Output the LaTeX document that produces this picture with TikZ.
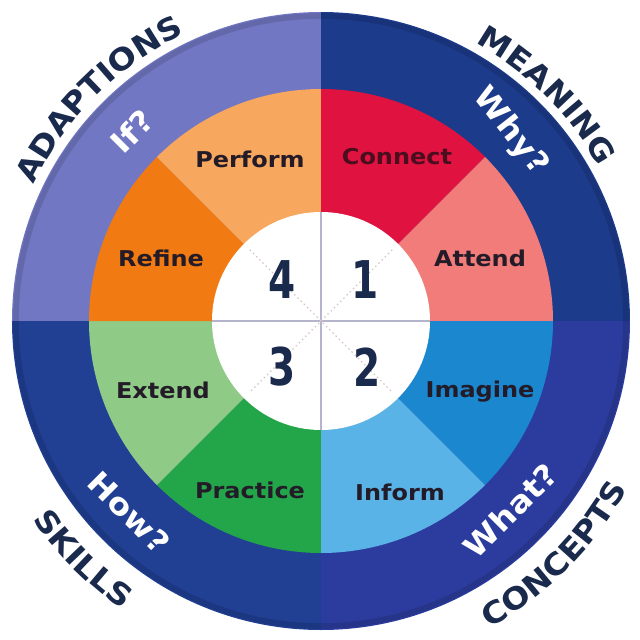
\documentclass[tikz,border=0pt]{standalone}
\usepackage{fontspec}
\setmainfont{DejaVu Sans}[FakeStretch=1.1]
\newfontfamily\numfont{DejaVu Sans}[FakeStretch=0.75]
\usetikzlibrary{decorations.text}
\definecolor{ringTL}{HTML}{7177C2}
\definecolor{ringTR}{HTML}{1D3B8B}
\definecolor{ringBL}{HTML}{213F93}
\definecolor{ringBR}{HTML}{2C3C9E}
\definecolor{cConnect}{HTML}{DF1240}
\definecolor{cAttend}{HTML}{F27C7A}
\definecolor{cImagine}{HTML}{1B87CF}
\definecolor{cInform}{HTML}{5AB3E6}
\definecolor{cPractice}{HTML}{23A64A}
\definecolor{cExtend}{HTML}{8FCB86}
\definecolor{cRefine}{HTML}{F27A12}
\definecolor{cPerform}{HTML}{F8A75E}
\definecolor{labelc}{HTML}{231C28}
\definecolor{connectc}{HTML}{4A0E1E}
\definecolor{navyc}{HTML}{1A2A4C}
\definecolor{crossc}{HTML}{B4B4CC}
\definecolor{dotc}{HTML}{D8C4C4}
\newcommand\outerfont{\fontsize{21.5}{21.5}\selectfont\bfseries\color{navyc}}
\begin{document}
\begin{tikzpicture}[x=0.025cm,y=0.025cm,
  sectorlabel/.style={font=\fontsize{15.5}{15.5}\selectfont\bfseries, text=labelc},
  ringlabel/.style={font=\fontsize{21.5}{21.5}\selectfont\bfseries, text=white},
  numlabel/.style={font=\numfont\fontsize{37}{37}\selectfont\bfseries, text=navyc},
  crossline/.style={draw=crossc, line width=1pt},
  dotline/.style={draw=dotc, line width=1.4pt, line cap=round, dash pattern=on 0pt off 3.2pt}]
\fill[white] (-321,-319) rectangle (319,321);
\useasboundingbox (-321,-319) rectangle (319,321);
% outer ring quadrants
\fill[ringTR] (0,0) -- (0:309) arc[start angle=0, end angle=90, radius=309] -- cycle;
\fill[ringTL] (0,0) -- (90:309) arc[start angle=90, end angle=180, radius=309] -- cycle;
\fill[ringBL] (0,0) -- (180:309) arc[start angle=180, end angle=270, radius=309] -- cycle;
\fill[ringBR] (0,0) -- (270:309) arc[start angle=270, end angle=360, radius=309] -- cycle;
% subtle darker rim
\draw[black, opacity=0.12, line width=4pt] (0,0) circle[radius=305];
% coloured sectors
\foreach \a/\b/\c in {45/90/cConnect, 0/45/cAttend, -45/0/cImagine, -90/-45/cInform,
  -135/-90/cPractice, 180/225/cExtend, 135/180/cRefine, 90/135/cPerform}
  \fill[\c] (0,0) -- (\a:232) arc[start angle=\a, end angle=\b, radius=232] -- cycle;
% white centre
\fill[white] (0,0) circle[radius=109];
\path[crossline] (-109,0) -- (109,0);
\path[crossline] (0,-109) -- (0,109);
\path[dotline] (135:100) -- (-45:100);
\path[dotline] (45:100) -- (225:100);
% numbers
\node[numlabel] (n4) at (-39,41) {4};
\node[numlabel] (n1) at (44,41) {1};
\node[numlabel] (n3) at (-39,-46) {3};
\node[numlabel] (n2) at (46,-46) {2};
% sector labels
\node[sectorlabel] (perform) at (-71,162) {Perform};
\node[sectorlabel, text=connectc] (connect) at (76,164) {Connect};
\node[sectorlabel] (refine) at (-160,63) {Refine};
\node[sectorlabel] (attend) at (159,63) {Attend};
\node[sectorlabel] (extend) at (-158,-69) {Extend};
\node[sectorlabel] (imagine) at (159,-71) {Imagine};
\node[sectorlabel] (practice) at (-71,-169) {Practice};
\node[sectorlabel] (inform) at (79,-171) {Inform};
% ring labels
\node[ringlabel, rotate=45] (if) at (135:268) {If?};
\node[ringlabel, rotate=-52] (why) at (45:268) {Why?};
\node[ringlabel, rotate=-45] (how) at (225:271) {How?};
\node[ringlabel, rotate=45] (what) at (-45:268) {What?};
% outer curved labels
\path[decorate, decoration={text along path, text align=center, text={|\outerfont|ADAPTIONS}}]
  (160:318) arc[start angle=160, end angle=110, radius=318];
\path[decorate, decoration={text along path, text align=center, text={|\outerfont|MEANING}}]
  (70:318) arc[start angle=70, end angle=20, radius=318];
\path[decorate, decoration={text along path, text align=center, text={|\outerfont|SKILLS}}]
  (200:350) arc[start angle=200, end angle=250, radius=350];
\path[decorate, decoration={text along path, text align=center, text={|\outerfont|CONCEPTS}}]
  (-70:350) arc[start angle=-70, end angle=-20, radius=350];
\end{tikzpicture}
\end{document}
